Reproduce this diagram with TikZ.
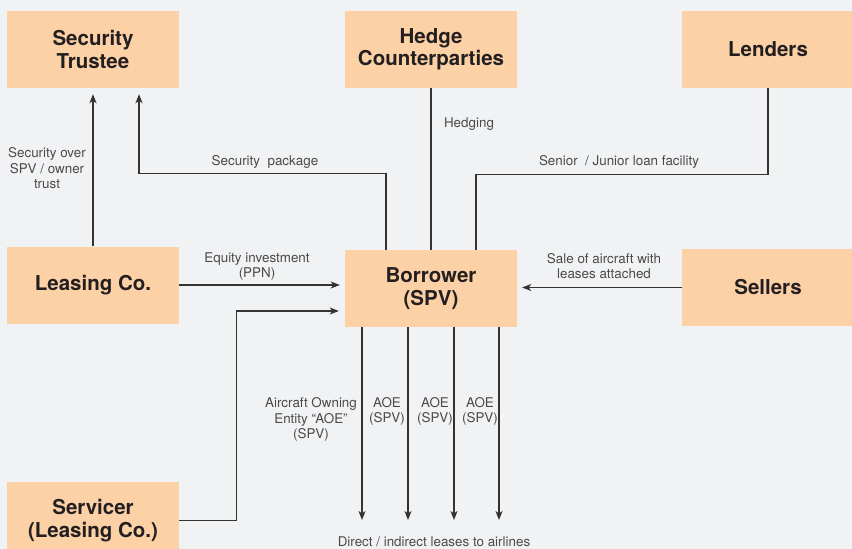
\documentclass[tikz,border=0pt]{standalone}
\usepackage{fontspec}
\setmainfont{TeX Gyre Heros}
\usepackage{tikz}
\usetikzlibrary{arrows.meta}
\definecolor{paper}{HTML}{F1F2F4}
\definecolor{peach}{HTML}{FDD1A6}
\definecolor{ink}{HTML}{231F20}
\definecolor{wire}{HTML}{333333}
\definecolor{notegray}{HTML}{4A4A4A}
\tikzstyle{party} = [fill=peach, minimum width=172pt, minimum height=77pt, align=center, text=ink, font={\fontsize{20.5}{22.5}\selectfont\bfseries}]
\tikzstyle{note} = [align=center, inner sep=0pt, yshift=-1.5pt, text=notegray, font={\fontsize{13.4}{15.5}\selectfont}]
\tikzstyle{line} = [draw=wire, line width=1.3pt]
\tikzstyle{arr} = [line, -{Stealth[length=9pt,width=7pt,inset=2.5pt]}]

\begin{document}
\begin{tikzpicture}[x=1pt,y=-1pt]
    \useasboundingbox (0,0) rectangle (852,549);
    \fill[paper] (0,0) rectangle (852,549);
    \node[party](trustee) at (93,49.5){Security\\Trustee};
    \node[party](hedge) at (431,49.5){Hedge\\Counterparties};
    \node[party](lenders) at (768,49.5){Lenders};
    \node[party](leasing) at (93,285){Leasing Co.};
    \node[party](borrower) at (431,288.5){Borrower\\(SPV)};
    \node[party](sellers) at (768,287.5){Sellers};
    \node[party](servicer) at (93,520.5){Servicer\\(Leasing Co.)};
    \coordinate (leasesend) at (0,520);
    \node[note](n1) at (47,167){Security over\\SPV / owner\\trust};
    \node[note](n2) at (265,160){Security~ package};
    \node[note](n3) at (469,123){Hedging};
    \node[note](n4) at (619,160){Senior~ / Junior loan facility};
    \node[note](n5) at (257,265){Equity investment\\(PPN)};
    \node[note](n6) at (604,264.5){Sale of aircraft with\\leases attached};
    \node[note](n7) at (311,418){Aircraft Owning\\Entity “AOE”\\(SPV)};
    \node[note](n8) at (387,410){AOE\\(SPV)};
    \node[note](n9) at (435,410){AOE\\(SPV)};
    \node[note](n10) at (480,410){AOE\\(SPV)};
    \node[note](airlines) at (434,540){Direct / indirect leases to airlines};
    \draw[arr,shorten >=6pt](leasing)--(trustee);
    \draw[arr,shorten >=6pt]([xshift=-45pt]borrower.north)--++(0,-76)-|([xshift=46pt]trustee.south);
    \draw[line](hedge)--(borrower);
    \draw[line](lenders.south)--++(0,86)-|([xshift=45pt]borrower.north);
    \draw[arr,shorten >=5pt](leasing.east)--(borrower.west |- leasing.east);
    \draw[arr,shorten >=5pt](sellers.west)--(borrower.east |- sellers.west);
    \draw[arr,shorten >=6pt](servicer.east)--++(57,0)|-([yshift=-22.5pt]borrower.west);
    \foreach \dx in {-69,-23,23,68}
      \draw[arr]([xshift=\dx pt]borrower.south)--([xshift=\dx pt]borrower.south |- leasesend);
  \end{tikzpicture}
\end{document}
